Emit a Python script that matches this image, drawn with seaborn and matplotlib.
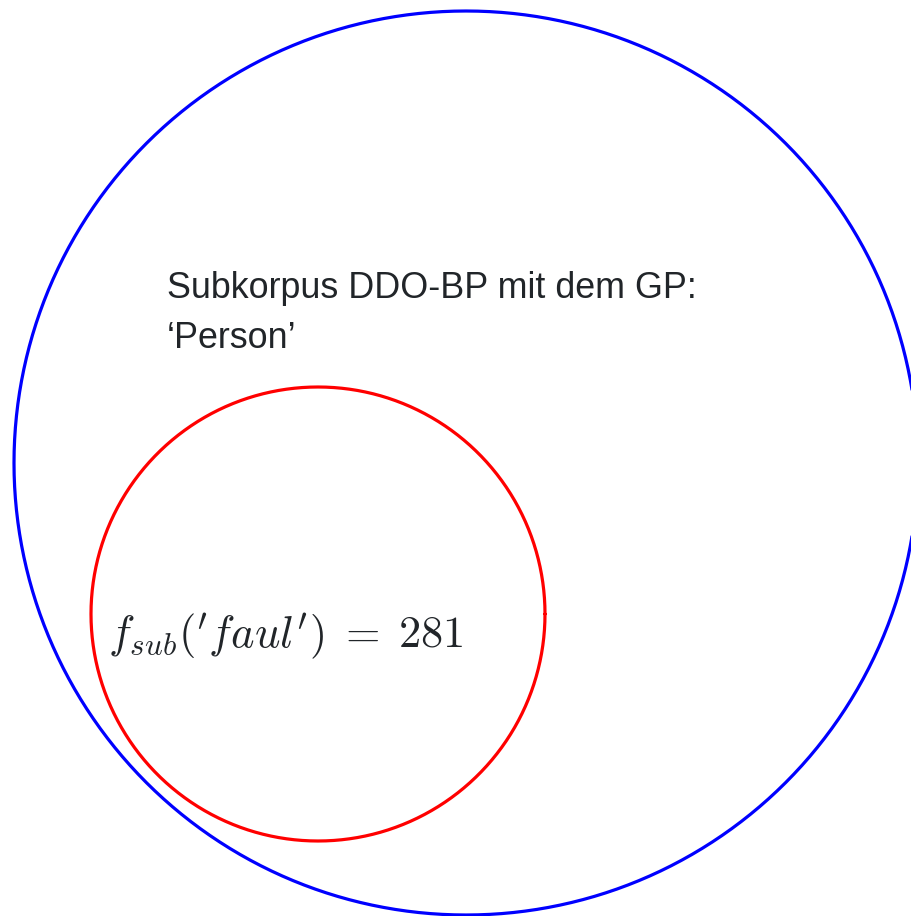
import numpy as np
import pandas as pd
import seaborn as sns
import matplotlib.pyplot as plt

# Circles (center x, center y, radius) in pixel coordinates of the picture
circle_names = ['Subkorpus', 'faul']
circle_cx = [466, 318]
circle_cy = [463, 614]
circle_r = [452, 227]
circle_colors = ['#0000ff', '#ff0000']

label_lines = ['Subkorpus DDO-BP mit dem GP:', '\u2018Person\u2019']
formula = r"$f_{sub}('faul')\;=\;281$"

sns.set_theme(style='white')
plt.rcParams['font.family'] = ['Liberation Sans', 'DejaVu Sans']
plt.rcParams['mathtext.fontset'] = 'cm'

# Build outline points for each circle
t = np.linspace(0, 2 * np.pi, 721)
frames = []
for name, cx, cy, r in zip(circle_names, circle_cx, circle_cy, circle_r):
    frames.append(pd.DataFrame({'x': cx + r * np.cos(t), 'y': cy + r * np.sin(t),
                                'step': np.arange(len(t)), 'circle': name}))
data = pd.concat(frames, ignore_index=True)

fig = plt.figure(figsize=(9.12, 9.16), dpi=100)
ax = fig.add_axes([0, 0, 1, 1])
sns.lineplot(data=data, x='x', y='y', hue='circle', units='circle', estimator=None,
             sort=False, palette=dict(zip(circle_names, circle_colors)),
             linewidth=2.3, legend=False, ax=ax)

# Labels
ax.text(167, 298, label_lines[0], fontsize=25.8, color='#212529', va='baseline')
ax.text(167, 348, label_lines[1], fontsize=25.8, color='#212529', va='baseline')
ax.text(108, 647, formula, fontsize=32, color='#212529', va='baseline')

ax.set_xlim(0, 912)
ax.set_ylim(916, 0)
ax.set_aspect('equal')
ax.axis('off')

fig.savefig('out.png', dpi=100)
